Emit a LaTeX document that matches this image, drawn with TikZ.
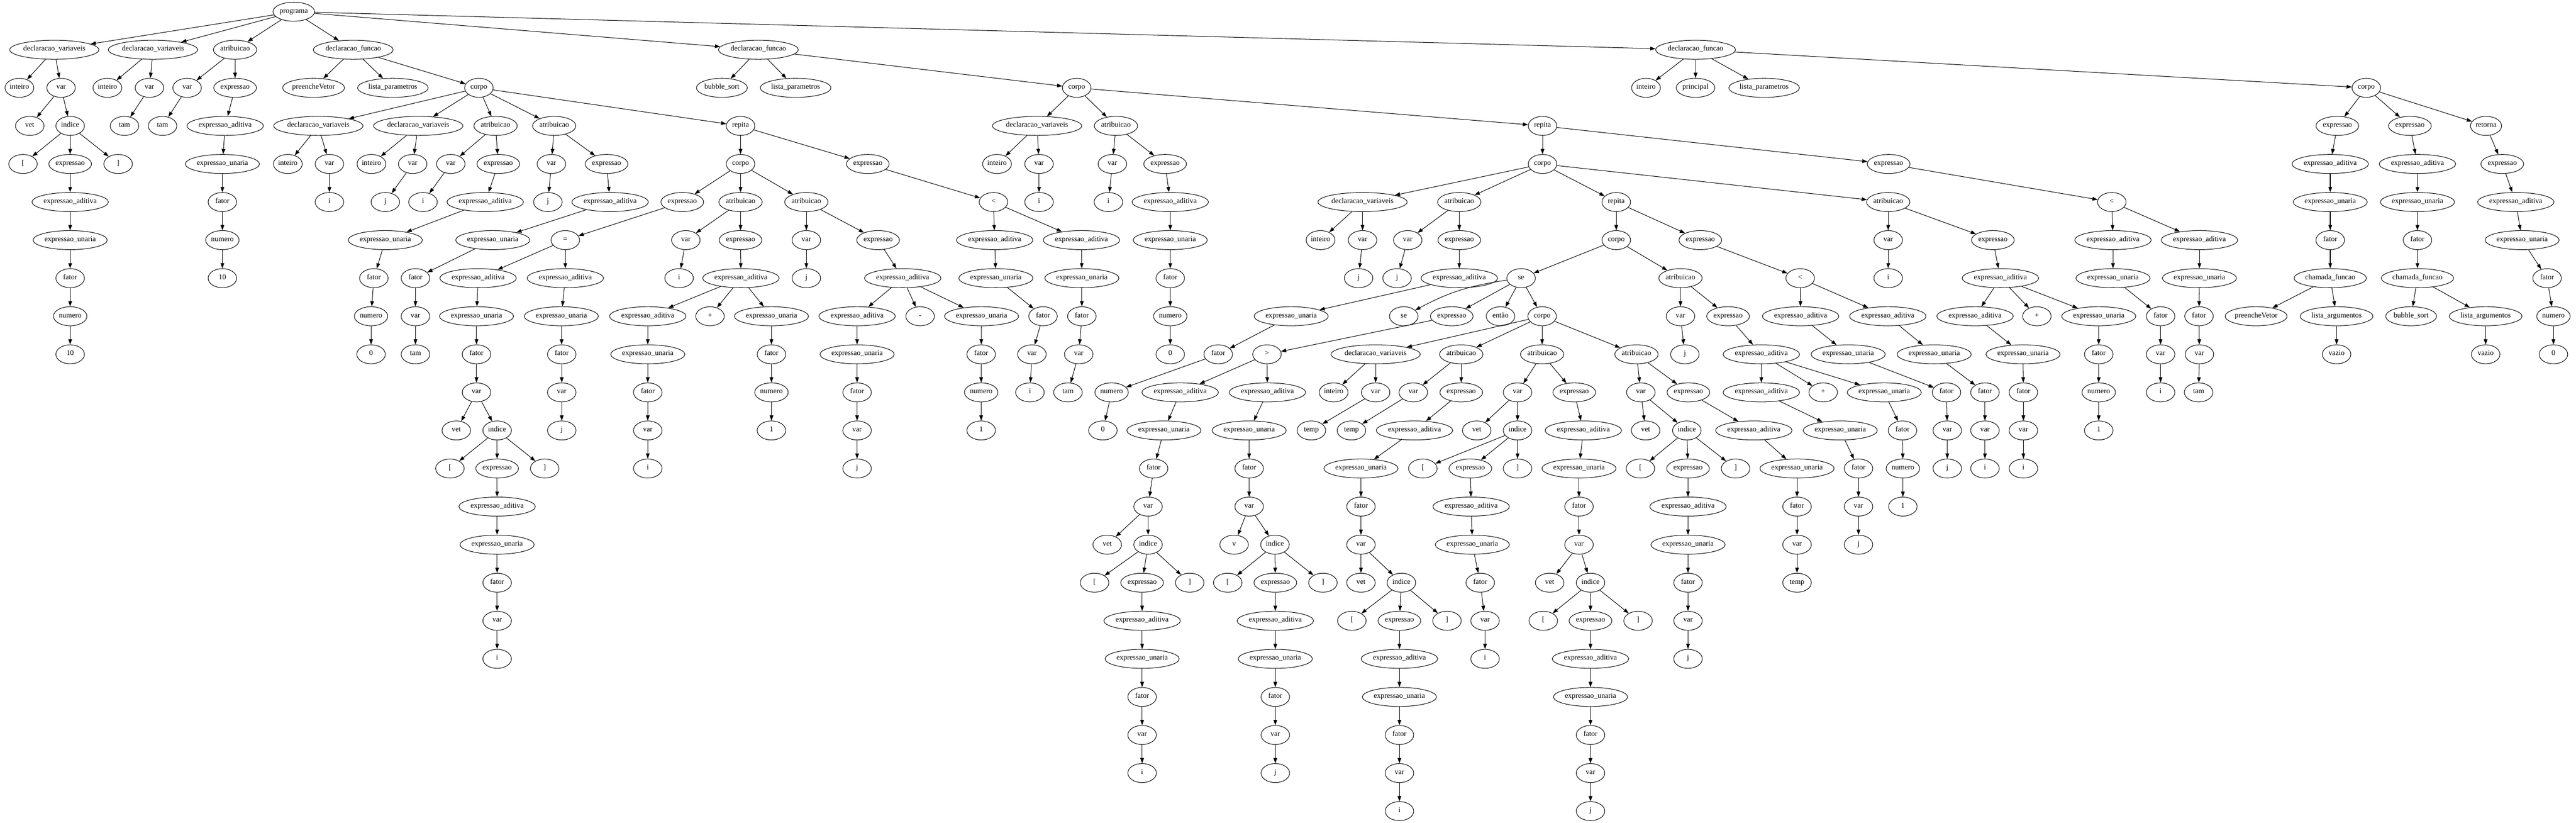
\documentclass[tikz,border=0pt]{standalone}
\usepackage{fontspec}
\setmainfont{Liberation Serif}
\usepackage{tikz}
\usetikzlibrary{arrows.meta,shapes.geometric}

% one child node and the arrow from its parent
\newcommand{\kid}[5]{\node (#1) [ast] at (#2,#3) {#4}; \draw [link] (#5) -- (#1);}

\begin{document}
\begin{tikzpicture}[
    x=0.75pt, y=-72pt,
    text height = 1.5ex,%linha de base comum
    text depth = .5ex,
    ast/.style={
        % The shape:
        ellipse, draw, line width=1pt,
        minimum width=54pt, minimum height=36pt,
        inner xsep=1pt, inner ysep=0pt,
        % The font
        font=\fontsize{14pt}{16pt}\selectfont},
    link/.style={line width=1pt, -{Triangle[length=10pt,width=7pt]}}
  ]
  \useasboundingbox (0,-0.3073) rectangle (6498,21.307);
  \node (prog) [ast] at (741,0) {programa};
  % declaracoes globais
  \kid{a1}{137}{1}{declaracao\_variaveis}{prog}
  \kid{a2}{49}{2}{inteiro}{a1}
  \kid{a3}{154}{2}{var}{a1}
  \kid{a4}{75}{3}{vet}{a3}
  \kid{a5}{177}{3}{indice}{a3}
  \kid{a6}{58}{4}{[}{a5}
  \kid{a7}{177}{4}{expressao}{a5}
  \kid{a8}{298}{4}{]}{a5}
  \kid{a9}{177}{5}{expressao\_aditiva}{a7}
  \kid{a10}{177}{6}{expressao\_unaria}{a9}
  \kid{a11}{177}{7}{fator}{a10}
  \kid{a12}{177}{8}{numero}{a11}
  \kid{a13}{177}{9}{10}{a12}
  \kid{b1}{386}{1}{declaracao\_variaveis}{prog}
  \kid{b2}{271}{2}{inteiro}{b1}
  \kid{b3}{377}{2}{var}{b1}
  \kid{b4}{314}{3}{tam}{b3}
  \kid{c1}{593}{1}{atribuicao}{prog}
  \kid{c2}{472}{2}{var}{c1}
  \kid{c3}{410}{3}{tam}{c2}
  \kid{c4}{593}{2}{expressao}{c1}
  \kid{c5}{568}{3}{expressao\_aditiva}{c4}
  \kid{c6}{561}{4}{expressao\_unaria}{c5}
  \kid{c7}{561}{5}{fator}{c6}
  \kid{c8}{561}{6}{numero}{c7}
  \kid{c9}{561}{7}{10}{c8}
  % preencheVetor
  \kid{p1}{891}{1}{declaracao\_funcao}{prog}
  \kid{p2}{791}{2}{preencheVetor}{p1}
  \kid{p3}{991}{2}{lista\_parametros}{p1}
  \kid{p4}{1208}{2}{corpo}{p1}
  \kid{p5}{803}{3}{declaracao\_variaveis}{p4}
  \kid{p6}{726}{4}{inteiro}{p5}
  \kid{p7}{831}{4}{var}{p5}
  \kid{p8}{831}{5}{i}{p7}
  \kid{p9}{1055}{3}{declaracao\_variaveis}{p4}
  \kid{p10}{937}{4}{inteiro}{p9}
  \kid{p11}{1041}{4}{var}{p9}
  \kid{p12}{972}{5}{j}{p11}
  \kid{p13}{1250}{3}{atribuicao}{p4}
  \kid{p14}{1137}{4}{var}{p13}
  \kid{p15}{1067}{5}{i}{p14}
  \kid{p16}{1257}{4}{expressao}{p13}
  \kid{p17}{1224}{5}{expressao\_aditiva}{p16}
  \kid{p18}{972}{6}{expressao\_unaria}{p17}
  \kid{p19}{943}{7}{fator}{p18}
  \kid{p20}{936}{8}{numero}{p19}
  \kid{p21}{936}{9}{0}{p20}
  \kid{p22}{1398}{3}{atribuicao}{p4}
  \kid{p23}{1391}{4}{var}{p22}
  \kid{p24}{1382}{5}{j}{p23}
  \kid{p25}{1530}{4}{expressao}{p22}
  \kid{p26}{1539}{5}{expressao\_aditiva}{p25}
  \kid{p27}{1243}{6}{expressao\_unaria}{p26}
  \kid{p28}{1048}{7}{fator}{p27}
  \kid{p29}{1048}{8}{var}{p28}
  \kid{p30}{1048}{9}{tam}{p29}
  \kid{p31}{1868}{3}{repita}{p4}
  \kid{p32}{1868}{4}{corpo}{p31}
  \kid{p33}{1721}{5}{expressao}{p32}
  \kid{p34}{1426}{6}{=}{p33}
  \kid{p35}{1206}{7}{expressao\_aditiva}{p34}
  \kid{p36}{1202}{8}{expressao\_unaria}{p35}
  \kid{p37}{1202}{9}{fator}{p36}
  \kid{p38}{1202}{10}{var}{p37}
  \kid{p39}{1151}{11}{vet}{p38}
  \kid{p40}{1254}{11}{indice}{p38}
  \kid{p41}{1135}{12}{[}{p40}
  \kid{p42}{1254}{12}{expressao}{p40}
  \kid{p43}{1374}{12}{]}{p40}
  \kid{p44}{1254}{13}{expressao\_aditiva}{p42}
  \kid{p45}{1254}{14}{expressao\_unaria}{p44}
  \kid{p46}{1254}{15}{fator}{p45}
  \kid{p47}{1254}{16}{var}{p46}
  \kid{p48}{1254}{17}{i}{p47}
  \kid{p49}{1426}{7}{expressao\_aditiva}{p34}
  \kid{p50}{1416}{8}{expressao\_unaria}{p49}
  \kid{p51}{1417}{9}{fator}{p50}
  \kid{p52}{1417}{10}{var}{p51}
  \kid{p53}{1417}{11}{j}{p52}
  \kid{p54}{1868}{5}{atribuicao}{p32}
  \kid{p55}{1730}{6}{var}{p54}
  \kid{p56}{1713}{7}{i}{p55}
  \kid{p57}{1868}{6}{expressao}{p54}
  \kid{p58}{1869}{7}{expressao\_aditiva}{p57}
  \kid{p59}{1634}{8}{expressao\_aditiva}{p58}
  \kid{p60}{1634}{9}{expressao\_unaria}{p59}
  \kid{p61}{1634}{10}{fator}{p60}
  \kid{p62}{1634}{11}{var}{p61}
  \kid{p63}{1634}{12}{i}{p62}
  \kid{p64}{1791}{8}{+}{p58}
  \kid{p65}{1946}{8}{expressao\_unaria}{p58}
  \kid{p66}{1946}{9}{fator}{p65}
  \kid{p67}{1946}{10}{numero}{p66}
  \kid{p68}{1946}{11}{1}{p67}
  \kid{p69}{2034}{5}{atribuicao}{p32}
  \kid{p70}{2034}{6}{var}{p69}
  \kid{p71}{2034}{7}{j}{p70}
  \kid{p72}{2215}{6}{expressao}{p69}
  \kid{p73}{2277}{7}{expressao\_aditiva}{p72}
  \kid{p74}{2162}{8}{expressao\_aditiva}{p73}
  \kid{p75}{2162}{9}{expressao\_unaria}{p74}
  \kid{p76}{2162}{10}{fator}{p75}
  \kid{p77}{2162}{11}{var}{p76}
  \kid{p78}{2162}{12}{j}{p77}
  \kid{p79}{2321}{8}{-}{p73}
  \kid{p80}{2476}{8}{expressao\_unaria}{p73}
  \kid{p81}{2475}{9}{fator}{p80}
  \kid{p82}{2475}{10}{numero}{p81}
  \kid{p83}{2475}{11}{1}{p82}
  \kid{p84}{2189}{4}{expressao}{p31}
  \kid{p85}{2506}{5}{<}{p84}
  \kid{p86}{2509}{6}{expressao\_aditiva}{p85}
  \kid{p87}{2512}{7}{expressao\_unaria}{p86}
  \kid{p88}{2631}{8}{fator}{p87}
  \kid{p89}{2603}{9}{var}{p88}
  \kid{p90}{2598}{10}{i}{p89}
  \kid{p91}{2728}{6}{expressao\_aditiva}{p85}
  \kid{p92}{2729}{7}{expressao\_unaria}{p91}
  \kid{p93}{2729}{8}{fator}{p92}
  \kid{p94}{2721}{9}{var}{p93}
  \kid{p95}{2694}{10}{tam}{p94}
  % bubble_sort
  \kid{q1}{1913}{1}{declaracao\_funcao}{prog}
  \kid{q2}{1821}{2}{bubble\_sort}{q1}
  \kid{q3}{2007}{2}{lista\_parametros}{q1}
  \kid{q4}{2716}{2}{corpo}{q1}
  \kid{q5}{2616}{3}{declaracao\_variaveis}{q4}
  \kid{q6}{2515}{4}{inteiro}{q5}
  \kid{q7}{2621}{4}{var}{q5}
  \kid{q8}{2621}{5}{i}{q7}
  \kid{q9}{2815}{3}{atribuicao}{q4}
  \kid{q10}{2806}{4}{var}{q9}
  \kid{q11}{2796}{5}{i}{q10}
  \kid{q12}{2939}{4}{expressao}{q9}
  \kid{q13}{2952}{5}{expressao\_aditiva}{q12}
  \kid{q14}{2952}{6}{expressao\_unaria}{q13}
  \kid{q15}{2952}{7}{fator}{q14}
  \kid{q16}{2952}{8}{numero}{q15}
  \kid{q17}{2952}{9}{0}{q16}
  \kid{q18}{3891}{3}{repita}{q4}
  \kid{q19}{3891}{4}{corpo}{q18}
  \kid{q20}{3437}{5}{declaracao\_variaveis}{q19}
  \kid{q21}{3331}{6}{inteiro}{q20}
  \kid{q22}{3437}{6}{var}{q20}
  \kid{q23}{3427}{7}{j}{q22}
  \kid{q24}{3681}{5}{atribuicao}{q19}
  \kid{q25}{3551}{6}{var}{q24}
  \kid{q26}{3524}{7}{j}{q25}
  \kid{q27}{3681}{6}{expressao}{q24}
  \kid{q28}{3681}{7}{expressao\_aditiva}{q27}
  \kid{q29}{3257}{8}{expressao\_unaria}{q28}
  \kid{q30}{3073}{9}{fator}{q29}
  \kid{q31}{2804}{10}{numero}{q30}
  \kid{q32}{2782}{11}{0}{q31}
  \kid{q33}{4077}{5}{repita}{q19}
  \kid{q34}{4077}{6}{corpo}{q33}
  \kid{q35}{3837}{7}{se}{q34}
  \node (q36) [ast] at (3541,8) {se};
  \draw [link] (q35) to [bend right=10] (q36);
  \kid{q37}{3662}{8}{expressao}{q35}
  \kid{q38}{3785}{8}{então}{q35}
  \kid{q39}{3890}{8}{corpo}{q35}
  \kid{q40}{3196}{9}{>}{q37}
  \kid{q41}{2977}{10}{expressao\_aditiva}{q40}
  \kid{q42}{2936}{11}{expressao\_unaria}{q41}
  \kid{q43}{2910}{12}{fator}{q42}
  \kid{q44}{2896}{13}{var}{q43}
  \kid{q45}{2793}{14}{vet}{q44}
  \kid{q46}{2896}{14}{indice}{q44}
  \kid{q47}{2761}{15}{[}{q46}
  \kid{q48}{2881}{15}{expressao}{q46}
  \kid{q49}{3001}{15}{]}{q46}
  \kid{q50}{2881}{16}{expressao\_aditiva}{q48}
  \kid{q51}{2881}{17}{expressao\_unaria}{q50}
  \kid{q52}{2881}{18}{fator}{q51}
  \kid{q53}{2881}{19}{var}{q52}
  \kid{q54}{2881}{20}{i}{q53}
  \kid{q55}{3197}{10}{expressao\_aditiva}{q40}
  \kid{q56}{3151}{11}{expressao\_unaria}{q55}
  \kid{q57}{3151}{12}{fator}{q56}
  \kid{q58}{3151}{13}{var}{q57}
  \kid{q59}{3113}{14}{v}{q58}
  \kid{q60}{3216}{14}{indice}{q58}
  \kid{q61}{3097}{15}{[}{q60}
  \kid{q62}{3217}{15}{expressao}{q60}
  \kid{q63}{3337}{15}{]}{q60}
  \kid{q64}{3217}{16}{expressao\_aditiva}{q62}
  \kid{q65}{3217}{17}{expressao\_unaria}{q64}
  \kid{q66}{3217}{18}{fator}{q65}
  \kid{q67}{3217}{19}{var}{q66}
  \kid{q68}{3217}{20}{j}{q67}
  \kid{q69}{3470}{9}{declaracao\_variaveis}{q39}
  \kid{q70}{3364}{10}{inteiro}{q69}
  \kid{q71}{3470}{10}{var}{q69}
  \kid{q72}{3308}{11}{temp}{q71}
  \kid{q73}{3686}{9}{atribuicao}{q39}
  \kid{q74}{3565}{10}{var}{q73}
  \kid{q75}{3409}{11}{temp}{q74}
  \kid{q76}{3686}{10}{expressao}{q73}
  \kid{q77}{3568}{11}{expressao\_aditiva}{q76}
  \kid{q78}{3433}{12}{expressao\_unaria}{q77}
  \kid{q79}{3433}{13}{fator}{q78}
  \kid{q80}{3433}{14}{var}{q79}
  \kid{q81}{3433}{15}{vet}{q80}
  \kid{q82}{3535}{15}{indice}{q80}
  \kid{q83}{3410}{16}{[}{q82}
  \kid{q84}{3530}{16}{expressao}{q82}
  \kid{q85}{3650}{16}{]}{q82}
  \kid{q86}{3530}{17}{expressao\_aditiva}{q84}
  \kid{q87}{3530}{18}{expressao\_unaria}{q86}
  \kid{q88}{3530}{19}{fator}{q87}
  \kid{q89}{3530}{20}{var}{q88}
  \kid{q90}{3530}{21}{i}{q89}
  \kid{q91}{3890}{9}{atribuicao}{q39}
  \kid{q92}{3828}{10}{var}{q91}
  \kid{q93}{3725}{11}{vet}{q92}
  \kid{q94}{3828}{11}{indice}{q92}
  \kid{q95}{3589}{12}{[}{q94}
  \kid{q96}{3709}{12}{expressao}{q94}
  \kid{q97}{3828}{12}{]}{q94}
  \kid{q98}{3711}{13}{expressao\_aditiva}{q96}
  \kid{q99}{3714}{14}{expressao\_unaria}{q98}
  \kid{q100}{3734}{15}{fator}{q99}
  \kid{q101}{3746}{16}{var}{q100}
  \kid{q102}{3746}{17}{i}{q101}
  \kid{q103}{3971}{10}{expressao}{q91}
  \kid{q104}{3994}{11}{expressao\_aditiva}{q103}
  \kid{q105}{3983}{12}{expressao\_unaria}{q104}
  \kid{q106}{3983}{13}{fator}{q105}
  \kid{q107}{3983}{14}{var}{q106}
  \kid{q108}{3909}{15}{vet}{q107}
  \kid{q109}{4012}{15}{indice}{q107}
  \kid{q110}{3893}{16}{[}{q109}
  \kid{q111}{4012}{16}{expressao}{q109}
  \kid{q112}{4132}{16}{]}{q109}
  \kid{q113}{4012}{17}{expressao\_aditiva}{q111}
  \kid{q114}{4012}{18}{expressao\_unaria}{q113}
  \kid{q115}{4012}{19}{fator}{q114}
  \kid{q116}{4012}{20}{var}{q115}
  \kid{q117}{4012}{21}{j}{q116}
  \kid{q118}{4128}{9}{atribuicao}{q39}
  \kid{q119}{4139}{10}{var}{q118}
  \kid{q120}{4151}{11}{vet}{q119}
  \kid{q121}{4255}{11}{indice}{q119}
  \kid{q122}{4138}{12}{[}{q121}
  \kid{q123}{4258}{12}{expressao}{q121}
  \kid{q124}{4378}{12}{]}{q121}
  \kid{q125}{4258}{13}{expressao\_aditiva}{q123}
  \kid{q126}{4258}{14}{expressao\_unaria}{q125}
  \kid{q127}{4258}{15}{fator}{q126}
  \kid{q128}{4258}{16}{var}{q127}
  \kid{q129}{4258}{17}{j}{q128}
  \kid{q130}{4259}{10}{expressao}{q118}
  \kid{q131}{4424}{11}{expressao\_aditiva}{q130}
  \kid{q132}{4533}{12}{expressao\_unaria}{q131}
  \kid{q133}{4533}{13}{fator}{q132}
  \kid{q134}{4533}{14}{var}{q133}
  \kid{q135}{4533}{15}{temp}{q134}
  \kid{q136}{4239}{7}{atribuicao}{q34}
  \kid{q137}{4239}{8}{var}{q136}
  \kid{q138}{4250}{9}{j}{q137}
  \kid{q139}{4359}{8}{expressao}{q136}
  \kid{q140}{4443}{9}{expressao\_aditiva}{q139}
  \kid{q141}{4443}{10}{expressao\_aditiva}{q140}
  \kid{q142}{4642}{11}{expressao\_unaria}{q141}
  \kid{q143}{4688}{12}{fator}{q142}
  \kid{q144}{4688}{13}{var}{q143}
  \kid{q145}{4688}{14}{j}{q144}
  \kid{q146}{4599}{10}{+}{q140}
  \kid{q147}{4753}{10}{expressao\_unaria}{q140}
  \kid{q148}{4799}{11}{fator}{q147}
  \kid{q149}{4800}{12}{numero}{q148}
  \kid{q150}{4800}{13}{1}{q149}
  \kid{q151}{4289}{6}{expressao}{q33}
  \kid{q152}{4541}{7}{<}{q151}
  \kid{q153}{4542}{8}{expressao\_aditiva}{q152}
  \kid{q154}{4662}{9}{expressao\_unaria}{q153}
  \kid{q155}{4910}{10}{fator}{q154}
  \kid{q156}{4912}{11}{var}{q155}
  \kid{q157}{4912}{12}{j}{q156}
  \kid{q158}{4762}{8}{expressao\_aditiva}{q152}
  \kid{q159}{4879}{9}{expressao\_unaria}{q158}
  \kid{q160}{5007}{10}{fator}{q159}
  \kid{q161}{5007}{11}{var}{q160}
  \kid{q162}{5007}{12}{i}{q161}
  \kid{q163}{4763}{5}{atribuicao}{q19}
  \kid{q164}{4763}{6}{var}{q163}
  \kid{q165}{4763}{7}{i}{q164}
  \kid{q166}{5027}{6}{expressao}{q163}
  \kid{q167}{5046}{7}{expressao\_aditiva}{q166}
  \kid{q168}{4982}{8}{expressao\_aditiva}{q167}
  \kid{q169}{5103}{9}{expressao\_unaria}{q168}
  \kid{q170}{5104}{10}{fator}{q169}
  \kid{q171}{5104}{11}{var}{q170}
  \kid{q172}{5104}{12}{i}{q171}
  \kid{q173}{5138}{8}{+}{q167}
  \kid{q174}{5294}{8}{expressao\_unaria}{q167}
  \kid{q175}{5294}{9}{fator}{q174}
  \kid{q176}{5294}{10}{numero}{q175}
  \kid{q177}{5294}{11}{1}{q176}
  \kid{q178}{4764}{4}{expressao}{q18}
  \kid{q179}{5327}{5}{<}{q178}
  \kid{q180}{5330}{6}{expressao\_aditiva}{q179}
  \kid{q181}{5330}{7}{expressao\_unaria}{q180}
  \kid{q182}{5450}{8}{fator}{q181}
  \kid{q183}{5450}{9}{var}{q182}
  \kid{q184}{5450}{10}{i}{q183}
  \kid{q185}{5548}{6}{expressao\_aditiva}{q179}
  \kid{q186}{5548}{7}{expressao\_unaria}{q185}
  \kid{q187}{5547}{8}{fator}{q186}
  \kid{q188}{5548}{9}{var}{q187}
  \kid{q189}{5546}{10}{tam}{q188}
  % principal
  \kid{m1}{4277}{1}{declaracao\_funcao}{prog}
  \kid{m2}{4152}{2}{inteiro}{m1}
  \kid{m3}{4277}{2}{principal}{m1}
  \kid{m4}{4450}{2}{lista\_parametros}{m1}
  \kid{m5}{5969}{2}{corpo}{m1}
  \kid{m6}{5896}{3}{expressao}{m5}
  \kid{m7}{5878}{4}{expressao\_aditiva}{m6}
  \kid{m8}{5878}{5}{expressao\_unaria}{m7}
  \kid{m9}{5878}{6}{fator}{m8}
  \kid{m10}{5878}{7}{chamada\_funcao}{m9}
  \kid{m11}{5691}{8}{preencheVetor}{m10}
  \kid{m12}{5894}{8}{lista\_argumentos}{m10}
  \kid{m13}{5894}{9}{vazio}{m12}
  \kid{m14}{6079}{3}{expressao}{m5}
  \kid{m15}{6098}{4}{expressao\_aditiva}{m14}
  \kid{m16}{6098}{5}{expressao\_unaria}{m15}
  \kid{m17}{6098}{6}{fator}{m16}
  \kid{m18}{6098}{7}{chamada\_funcao}{m17}
  \kid{m19}{6082}{8}{bubble\_sort}{m18}
  \kid{m20}{6270}{8}{lista\_argumentos}{m18}
  \kid{m21}{6270}{9}{vazio}{m20}
  \kid{m22}{6271}{3}{retorna}{m5}
  \kid{m23}{6312}{4}{expressao}{m22}
  \kid{m24}{6346}{5}{expressao\_aditiva}{m23}
  \kid{m25}{6362}{6}{expressao\_unaria}{m24}
  \kid{m26}{6425}{7}{fator}{m25}
  \kid{m27}{6441}{8}{numero}{m26}
  \kid{m28}{6441}{9}{0}{m27}
\end{tikzpicture}
\end{document}
